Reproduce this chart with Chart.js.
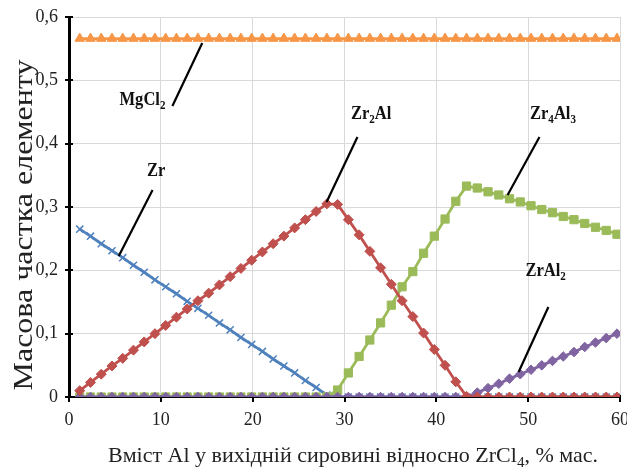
<!DOCTYPE html>
<html>
<head>
<meta charset="utf-8">
<script src="https://cdn.jsdelivr.net/npm/chart.js@4.4.1/dist/chart.umd.min.js"></script>
<style>
  html, body { margin: 0; padding: 0; background: #ffffff; }
  #wrap { width: 627px; height: 475px; }
</style>
</head>
<body>
<div id="wrap"><canvas id="c" width="627" height="475"></canvas></div>
<script>
// ---- data ----
const xValues = [1.17, 2.34, 3.51, 4.68, 5.85, 7.02, 8.19, 9.36, 10.53, 11.70,
  12.87, 14.04, 15.21, 16.38, 17.55, 18.72, 19.89, 21.06, 22.23, 23.40,
  24.57, 25.74, 26.91, 28.08, 29.25, 30.42, 31.59, 32.76, 33.93, 35.10,
  36.27, 37.44, 38.61, 39.78, 40.95, 42.12, 43.29, 44.46, 45.63, 46.80,
  47.97, 49.14, 50.31, 51.48, 52.65, 53.82, 54.99, 56.16, 57.33, 58.50, 59.67];

const zr = [0.265, 0.254, 0.242, 0.231, 0.220, 0.208, 0.197, 0.185, 0.174, 0.163,
  0.151, 0.140, 0.129, 0.117, 0.106, 0.094, 0.083, 0.072, 0.060, 0.049,
  0.038, 0.026, 0.015, 0.003, 0, 0, 0, 0, 0, 0,
  0, 0, 0, 0, 0, 0, 0, 0, 0, 0,
  0, 0, 0, 0, 0, 0, 0, 0, 0, 0, 0];

const zr2al = [0.010, 0.023, 0.036, 0.049, 0.061, 0.074, 0.087, 0.100, 0.113, 0.126,
  0.139, 0.152, 0.164, 0.177, 0.190, 0.203, 0.216, 0.229, 0.242, 0.254,
  0.267, 0.280, 0.293, 0.305, 0.304, 0.280, 0.256, 0.230, 0.204, 0.178,
  0.152, 0.127, 0.101, 0.075, 0.050, 0.024, 0.001, 0, 0, 0,
  0, 0, 0, 0, 0, 0, 0, 0, 0, 0, 0];

const zr4al3 = [0, 0, 0, 0, 0, 0, 0, 0, 0, 0,
  0, 0, 0, 0, 0, 0, 0, 0, 0, 0,
  0, 0, 0, 0, 0.011, 0.038, 0.064, 0.090, 0.117, 0.145,
  0.174, 0.198, 0.227, 0.254, 0.281, 0.309, 0.333, 0.330, 0.324, 0.319,
  0.313, 0.308, 0.302, 0.296, 0.291, 0.285, 0.280, 0.274, 0.268, 0.263, 0.257];

const zral2 = [0, 0, 0, 0, 0, 0, 0, 0, 0, 0,
  0, 0, 0, 0, 0, 0, 0, 0, 0, 0,
  0, 0, 0, 0, 0, 0, 0, 0, 0, 0,
  0, 0, 0, 0, 0, 0, 0, 0.007, 0.014, 0.021,
  0.029, 0.036, 0.043, 0.050, 0.057, 0.064, 0.071, 0.079, 0.086, 0.093, 0.100];

const mgcl2 = [0.566, 0.566, 0.566, 0.566, 0.566, 0.566, 0.566, 0.566, 0.566, 0.566,
  0.566, 0.566, 0.566, 0.566, 0.566, 0.566, 0.566, 0.566, 0.566, 0.566,
  0.566, 0.566, 0.566, 0.566, 0.566, 0.566, 0.566, 0.566, 0.566, 0.566,
  0.566, 0.566, 0.566, 0.566, 0.566, 0.566, 0.566, 0.566, 0.566, 0.566,
  0.566, 0.566, 0.566, 0.566, 0.566, 0.566, 0.566, 0.566, 0.566, 0.566, 0.566];

const xTicks = [0, 10, 20, 30, 40, 50, 60];
const yTicks = [0, 0.1, 0.2, 0.3, 0.4, 0.5, 0.6];
const yTickLabels = ['0', '0,1', '0,2', '0,3', '0,4', '0,5', '0,6'];

const xTitleParts = [['Вміст Al у вихідній сировині відносно ZrCl', 0], ['4', 1], [', % мас.', 0]];
const yTitle = 'Масова частка елементу';

// series labels written on the plot, with leader lines (data units)
const seriesLabels = [
  { parts: [['Mg', 0], ['Cl', 0], ['2', 1]], at: [8.0, 0.4705], line: [[11.26, 0.4595], [14.51, 0.559]] },
  { parts: [['Zr', 0]], at: [9.5, 0.358], line: [[9.1, 0.327], [5.42, 0.2226]] },
  { parts: [['Zr', 0], ['2', 1], ['Al', 0]], at: [32.9, 0.448], line: [[31.41, 0.4105], [28.05, 0.3079]] },
  { parts: [['Zr', 0], ['4', 1], ['Al', 0], ['3', 1]], at: [52.7, 0.448], line: [[51.23, 0.4105], [47.76, 0.319]] },
  { parts: [['ZrAl', 0], ['2', 1]], at: [51.9, 0.2], line: [[52.2, 0.142], [48.96, 0.0395]] }
];

// ---- build chart ----
function pts(ys) { return xValues.map((x, i) => ({ x: x, y: ys[i] })); }

const SERIF = "'Liberation Serif', 'Times New Roman', serif";

function drawParts(ctx, parts, big, small, subDy) {
  let w = 0;
  parts.forEach(p => { ctx.font = p[1] ? small : big; w += ctx.measureText(p[0]).width; });
  let x = -w / 2;
  parts.forEach(p => {
    ctx.font = p[1] ? small : big;
    ctx.fillText(p[0], x, p[1] ? subDy : 0);
    x += ctx.measureText(p[0]).width;
  });
}

const overlay = {
  id: 'overlay',
  beforeDatasetsDraw(chart) {
    const ctx = chart.ctx, xs = chart.scales.x, ys = chart.scales.y;
    const a = chart.chartArea;
    ctx.save();
    ctx.strokeStyle = '#000';
    ctx.lineWidth = 2;
    yTicks.forEach(v => {
      const py = Math.round(ys.getPixelForValue(v));
      ctx.beginPath(); ctx.moveTo(a.left - 4, py); ctx.lineTo(a.left + 4, py); ctx.stroke();
    });
    xTicks.forEach(v => {
      const px = Math.round(xs.getPixelForValue(v));
      ctx.beginPath(); ctx.moveTo(px, a.bottom - 2); ctx.lineTo(px, a.bottom + 5); ctx.stroke();
    });
    ctx.restore();
  },
  afterDatasetsDraw(chart) {
    const ctx = chart.ctx, xs = chart.scales.x, ys = chart.scales.y;
    ctx.save();
    ctx.strokeStyle = '#000';
    ctx.lineWidth = 2.2;
    seriesLabels.forEach(l => {
      ctx.beginPath();
      ctx.moveTo(xs.getPixelForValue(l.line[0][0]), ys.getPixelForValue(l.line[0][1]));
      ctx.lineTo(xs.getPixelForValue(l.line[1][0]), ys.getPixelForValue(l.line[1][1]));
      ctx.stroke();
    });
    ctx.fillStyle = '#111';
    ctx.textBaseline = 'alphabetic';
    ctx.textAlign = 'left';
    const big = 'bold 18px ' + SERIF, small = 'bold 12px ' + SERIF;
    seriesLabels.forEach(l => {
      const cx = xs.getPixelForValue(l.at[0]), cy = ys.getPixelForValue(l.at[1]);
      ctx.save();
      ctx.translate(cx, cy + 6);
      ctx.scale(0.92, 1);
      drawParts(ctx, l.parts, big, small, 4);
      ctx.restore();
    });

    // axis titles
    ctx.fillStyle = '#222';
    ctx.save();
    ctx.translate(353, 462);
    drawParts(ctx, xTitleParts, '22px ' + SERIF, '15px ' + SERIF, 5);
    ctx.restore();

    ctx.save();
    ctx.translate(32, 225);
    ctx.rotate(-Math.PI / 2);
    ctx.scale(1, 0.88);
    ctx.textAlign = 'center';
    ctx.font = '32px ' + SERIF;
    ctx.fillText(yTitle, 0, 0);
    ctx.restore();
    ctx.restore();
  }
};

function ds(label, data, color, style, radius, bw) {
  return {
    label: label, data: pts(data),
    borderColor: color, backgroundColor: color,
    borderWidth: 2.8,
    pointStyle: style, pointRadius: radius,
    pointBorderColor: color, pointBackgroundColor: color,
    pointBorderWidth: bw,
    tension: 0
  };
}

new Chart(document.getElementById('c'), {
  type: 'line',
  data: {
    datasets: [
      ds('Zr₂Al', zr2al, '#C0504D', 'rectRot', 5, 1),
      ds('ZrAl₂', zral2, '#8064A2', 'rectRot', 4.8, 1),
      ds('Zr₄Al₃', zr4al3, '#9BBB59', 'rect', 5.8, 1),
      ds('Zr', zr, '#4F81BD', 'crossRot', 5, 1.5),
      ds('MgCl₂', mgcl2, '#F79646', 'triangle', 5.5, 1)
    ]
  },
  plugins: [overlay],
  options: {
    responsive: false,
    animation: false,
    events: [],
    layout: { padding: { top: 17, right: 7, left: 0, bottom: 0 } },
    plugins: { legend: { display: false }, tooltip: { enabled: false } },
    scales: {
      x: {
        type: 'linear', min: 0, max: 60,
        afterBuildTicks: s => { s.ticks = xTicks.map(v => ({ value: v })); },
        afterFit: s => { s.height = 78; s.paddingLeft = 0; s.paddingRight = 0; },
        grid: { color: '#d9d9d9', lineWidth: 1, drawTicks: false },
        border: { color: '#000', width: 2 },
        ticks: { color: '#222', padding: 12, font: { family: SERIF, size: 18 } },
        title: { display: false }
      },
      y: {
        type: 'linear', min: 0, max: 0.6,
        afterBuildTicks: s => { s.ticks = yTicks.map(v => ({ value: v })); },
        afterFit: s => { s.width = 69; s.paddingTop = 0; s.paddingBottom = 0; },
        grid: { color: '#d9d9d9', lineWidth: 1, drawTicks: false },
        border: { color: '#000', width: 3 },
        ticks: {
          color: '#222', padding: 11, font: { family: SERIF, size: 18 },
          callback: (v) => yTickLabels[yTicks.indexOf(Math.round(v * 10) / 10)]
        },
        title: { display: false }
      }
    }
  }
});
</script>
</body>
</html>
